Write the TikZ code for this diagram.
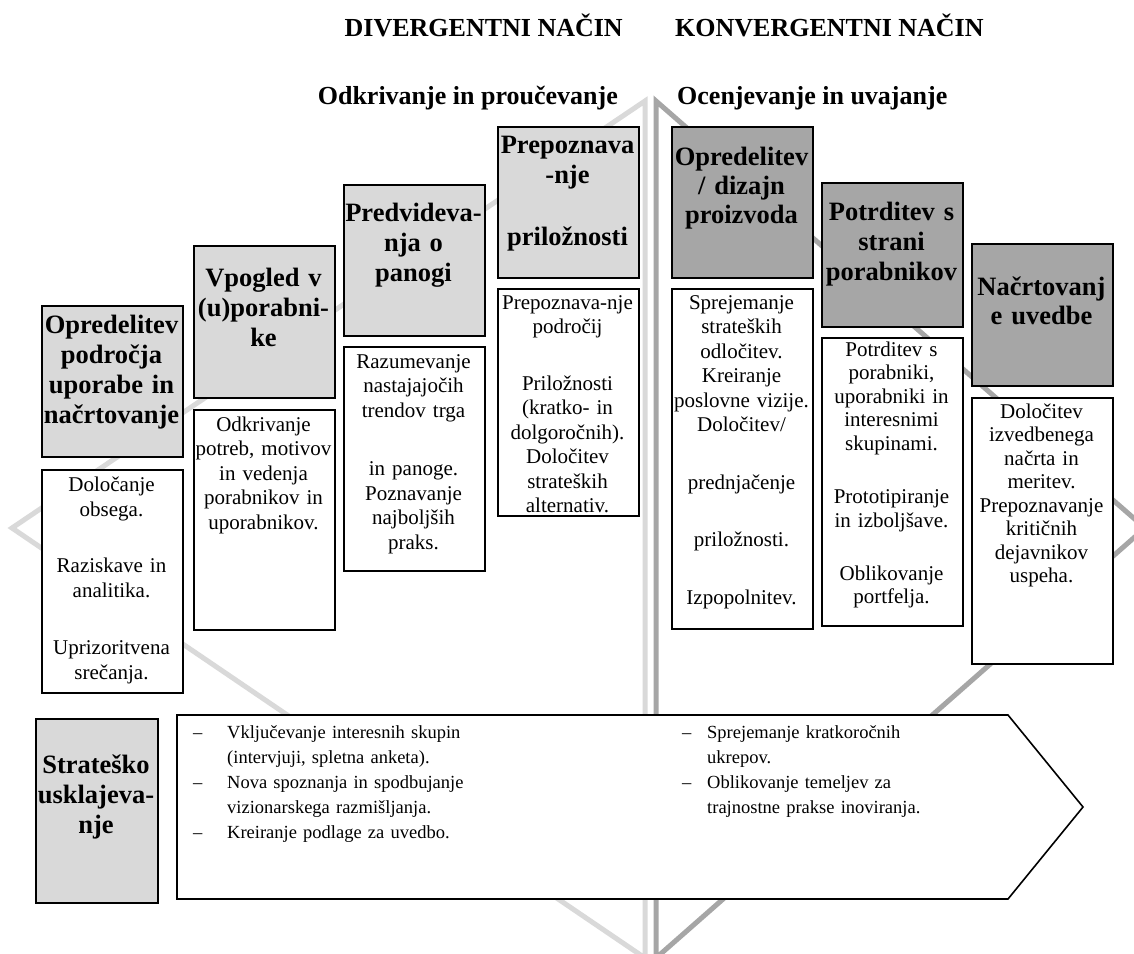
\documentclass[tikz,border=0pt]{standalone}
\usepackage{fontspec}
\setmainfont{Liberation Serif}
\definecolor{lightg}{HTML}{D9D9D9}
\definecolor{darkg}{HTML}{A6A6A6}
\begin{document}
\begin{tikzpicture}[x=1pt,y=-1pt,
  panel/.style={draw=black, line width=1.6pt, fill=#1, inner sep=0pt, anchor=north west},
  panel/.default=white,
  headtext/.style={anchor=base, text width=150pt, align=center, inner sep=0pt,
    font=\bfseries\fontsize{26.5}{30}\selectfont},
  bodytext/.style={anchor=base, text width=150pt, align=center, inner sep=0pt,
    font=\fontsize{21}{24.5}\selectfont},
  titletext/.style={inner sep=0pt, font=\bfseries\fontsize{26}{30}\selectfont},
  listtext/.style={anchor=base west, text width=330pt, align=left, inner sep=0pt,
    font=\fontsize{18.5}{25}\selectfont},
  halfdiamond/.style={line width=5pt, line join=miter}
]
% canvas
\fill[white] (0,0) rectangle (1134,953);
\useasboundingbox (0,0) rectangle (1134,953);

% background half-diamonds
\begin{scope}
\clip (0,0) rectangle (1134,953);
\draw[halfdiamond, draw=lightg] (645,101) -- (12,528) -- (645,958) -- cycle;
\draw[halfdiamond, draw=darkg] (656,101) -- (1145,528) -- (656,958) -- cycle;
\end{scope}

% titles
\node[titletext, anchor=base east] (divtitle) at (623,36.5) {DIVERGENTNI NAČIN};
\node[titletext, anchor=base west] (kontitle) at (675,36.5) {KONVERGENTNI NAČIN};
\node[titletext, anchor=base east] (divsub) at (618,104) {Odkrivanje in proučevanje};
\node[titletext, anchor=base west] (konsub) at (677,104) {Ocenjevanje in uvajanje};

% stage headers
\node[panel=lightg, minimum width=141pt, minimum height=151pt] (h1) at (41,305) {};
\node[panel=lightg, minimum width=141pt, minimum height=152pt] (h2) at (193,245) {};
\node[panel=lightg, minimum width=141pt, minimum height=151pt] (h3) at (343,184) {};
\node[panel=lightg, minimum width=141pt, minimum height=151pt] (h4) at (497,126) {};
\node[panel=darkg, minimum width=141pt, minimum height=151pt] (h5) at (671,126) {};
\node[panel=darkg, minimum width=141pt, minimum height=144pt] (h6) at (821,182) {};
\node[panel=darkg, minimum width=141pt, minimum height=142pt] (h7) at (971,243) {};

\node[headtext] (h1t) at (111.5,333) {Opredelitev\\področja\\uporabe in\\načrtovanje};
\node[headtext] (h2t) at (263.5,286) {Vpogled v\\(u)porabni-\\ke};
\node[headtext] (h3t) at (413.5,221) {Predvideva-\\nja o\\panogi};
\node[headtext] (h4t) at (567.5,153) {Prepoznava\\-nje\\[32pt]priložnosti};
\node[headtext, font=\bfseries\fontsize{26.5}{29}\selectfont] (h5t) at (741.5,165) {Opredelitev\\/ dizajn\\proizvoda};
\node[headtext] (h6t) at (891.5,220) {Potrditev s\\strani\\porabnikov};
\node[headtext, font=\bfseries\fontsize{26.5}{29}\selectfont] (h7t) at (1041.5,295) {Načrtovanj\\e uvedbe};

% stage descriptions
\node[panel, minimum width=141pt, minimum height=223pt] (b1) at (41,469) {};
\node[panel, minimum width=141pt, minimum height=220pt] (b2) at (193,409) {};
\node[panel, minimum width=141pt, minimum height=224pt] (b3) at (343,346) {};
\node[panel, minimum width=141pt, minimum height=227pt] (b4) at (497,288) {};
\node[panel, minimum width=141pt, minimum height=340pt] (b5) at (671,288) {};
\node[panel, minimum width=141pt, minimum height=288pt] (b6) at (821,337) {};
\node[panel, minimum width=141pt, minimum height=266pt] (b7) at (971,397) {};

\node[bodytext, font=\fontsize{21}{25}\selectfont] (b1t) at (111.5,491)
  {Določanje\\obsega.\\[31pt]Raziskave in\\analitika.\\[32pt]Uprizoritvena\\srečanja.};
\node[bodytext] (b2t) at (263.5,431)
  {Odkrivanje\\potreb, motivov\\in vedenja\\porabnikov in\\uporabnikov.};
\node[bodytext] (b3t) at (413.5,368)
  {Razumevanje\\nastajajočih\\trendov trga\\[34pt]in panoge.\\Poznavanje\\najboljših\\praks.};
\node[bodytext] (b4t) at (567.5,309)
  {Prepoznava-nje\\področij\\[32pt]Priložnosti\\(kratko- in\\dolgoročnih).\\Določitev\\strateških\\alternativ.};
\node[bodytext] (b5t) at (741.5,309)
  {Sprejemanje\\strateških\\odločitev.\\Kreiranje\\poslovne vizije.\\Določitev/\\[33pt]prednjačenje\\[33pt]priložnosti.\\[33pt]Izpopolnitev.};
\node[bodytext, font=\fontsize{21}{23.6}\selectfont] (b6t) at (891.5,356)
  {Potrditev s\\porabniki,\\uporabniki in\\interesnimi\\skupinami.\\[29.5pt]Prototipiranje\\in izboljšave.\\[29.5pt]Oblikovanje\\portfelja.};
\node[bodytext, font=\fontsize{21}{23.5}\selectfont] (b7t) at (1041.5,418)
  {Določitev\\izvedbenega\\načrta in\\meritev.\\Prepoznavanje\\kritičnih\\dejavnikov\\uspeha.};

% strategic alignment row
\node[panel=lightg, minimum width=122pt, minimum height=184pt] (sa) at (35,718) {};
\node[headtext] (sat) at (96,773) {Strateško\\usklajeva-\\nje};

\draw[line width=1.6pt, fill=white]
  (177,715) coordinate (p1) -- (1008,715) coordinate (p2) -- (1083,807) coordinate (p3)
  -- (1008,899) coordinate (p4) -- (177,899) coordinate (p5) -- cycle;

\node[listtext] (listdiv) at (193,738)
  {\makebox[34pt][l]{–}Vključevanje interesnih skupin\\
   \hspace*{34pt}(intervjuji, spletna anketa).\\
   \makebox[34pt][l]{–}Nova spoznanja in spodbujanje\\
   \hspace*{34pt}vizionarskega razmišljanja.\\
   \makebox[34pt][l]{–}Kreiranje podlage za uvedbo.};
\node[listtext] (listkon) at (682,738)
  {\makebox[25pt][l]{–}Sprejemanje kratkoročnih\\
   \hspace*{25pt}ukrepov.\\
   \makebox[25pt][l]{–}Oblikovanje temeljev za\\
   \hspace*{25pt}trajnostne prakse inoviranja.};
\end{tikzpicture}
\end{document}
